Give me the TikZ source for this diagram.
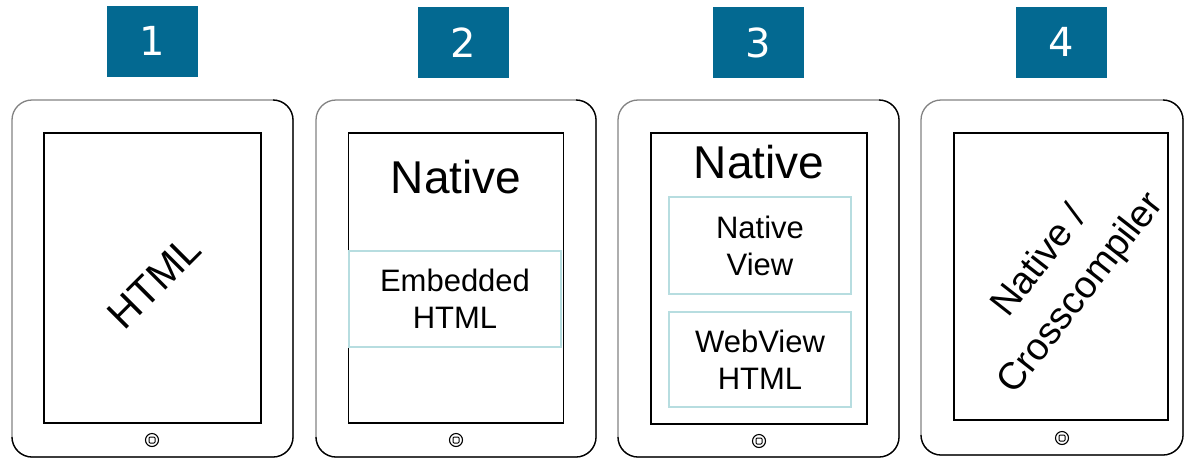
\documentclass[tikz,border=0pt]{standalone}
\usepackage{fontspec}
\setmainfont{Liberation Sans}
\newfontfamily\numfont{DejaVu Sans}
\definecolor{badgeblue}{RGB}{3,105,145}
\definecolor{panelline}{RGB}{183,221,224}
\definecolor{bezelgray}{RGB}{130,130,130}

% tablet bezel: light top/left edges, dark right/bottom edges
% #1 left, #2 right, #3 top, #4 bottom
\newcommand\tabletbezel[4]{%
  \draw[bezel, bezelgray] (#1,#3) rectangle (#2,#4);
  \draw[bezel, black] (#2-20,#3) -- (#2,#3) -- (#2,#4) -- (#1,#4) -- (#1,#4-20);
}

\begin{document}
\begin{tikzpicture}[x=1pt, y=-1pt,
  bezel/.style={line width=1.3pt, rounded corners=20pt},
  screen/.style={draw=black, line width=1.3pt, inner sep=0pt},
  badge/.style={fill=badgeblue, text=white, inner sep=0pt,
    minimum width=91pt, minimum height=71pt,
    font=\numfont\fontsize{40}{48}\selectfont},
  panel/.style={draw=panelline, line width=1.5pt, inner sep=0pt,
    minimum width=182pt, align=center,
    font=\fontsize{31}{37}\selectfont},
  bigtext/.style={inner sep=0pt, font=\fontsize{46}{52}\selectfont},
  midtext/.style={inner sep=0pt, align=center, font=\fontsize{41}{46}\selectfont},
  slanttext/.style={inner sep=0pt, align=center, font=\fontsize{38}{52}\selectfont},
  homebtn/.style={circle, draw=black, line width=1.1pt, minimum size=13pt, inner sep=0pt},
]
\useasboundingbox (0,0) rectangle (1187,459);

% number badges
\node[badge] (n1) at (152.5,41) {1};
\node[badge] (n2) at (463.5,42.5) {2};
\node[badge] (n3) at (758.5,42.5) {3};
\node[badge] (n4) at (1061.5,42) {4};

% bezels
\tabletbezel{12}{293}{100}{457}
\tabletbezel{316}{596}{100}{457}
\tabletbezel{618}{899}{100}{457}
\tabletbezel{921}{1183}{100}{455}

% screens
\node[screen, minimum width=217pt, minimum height=290pt] (s1) at (152.5,278) {};
\node[screen, minimum width=215pt, minimum height=290pt] (s2) at (456,278) {};
\node[screen, minimum width=216pt, minimum height=291pt] (s3) at (759,278.5) {};
\node[screen, minimum width=214pt, minimum height=287pt] (s4) at (1061,276.5) {};

% home buttons
\foreach \hx/\hy/\nm in {152/440/h1, 456/440/h2, 759/441/h3, 1062/438/h4}{
  \node[homebtn] (\nm) at (\hx,\hy) {};
  \draw[line width=1pt, rounded corners=1pt] (\hx-3,\hy-3) rectangle (\hx+3,\hy+3);
}

% 1: pure HTML
\node[midtext, rotate=45] (t1) at (154,282) {HTML};

% 2: native shell with embedded HTML
\node[bigtext, anchor=base] (t2) at (456,193) {Native};
\node[panel, minimum width=212pt, minimum height=96pt] (p2) at (455,299) {Embedded\\HTML};

% 3: native views with a web view
\node[bigtext, anchor=base] (t3) at (759,178) {Native};
\node[panel, minimum height=97pt] (p3a) at (760,245.5) {Native\\View};
\node[panel, minimum height=95pt] (p3b) at (760,359.5) {WebView\\HTML};

% 4: native / crosscompiled
\node[slanttext, rotate=52] (t4) at (1061,278) {Native /\\Crosscompiler};
\end{tikzpicture}
\end{document}
